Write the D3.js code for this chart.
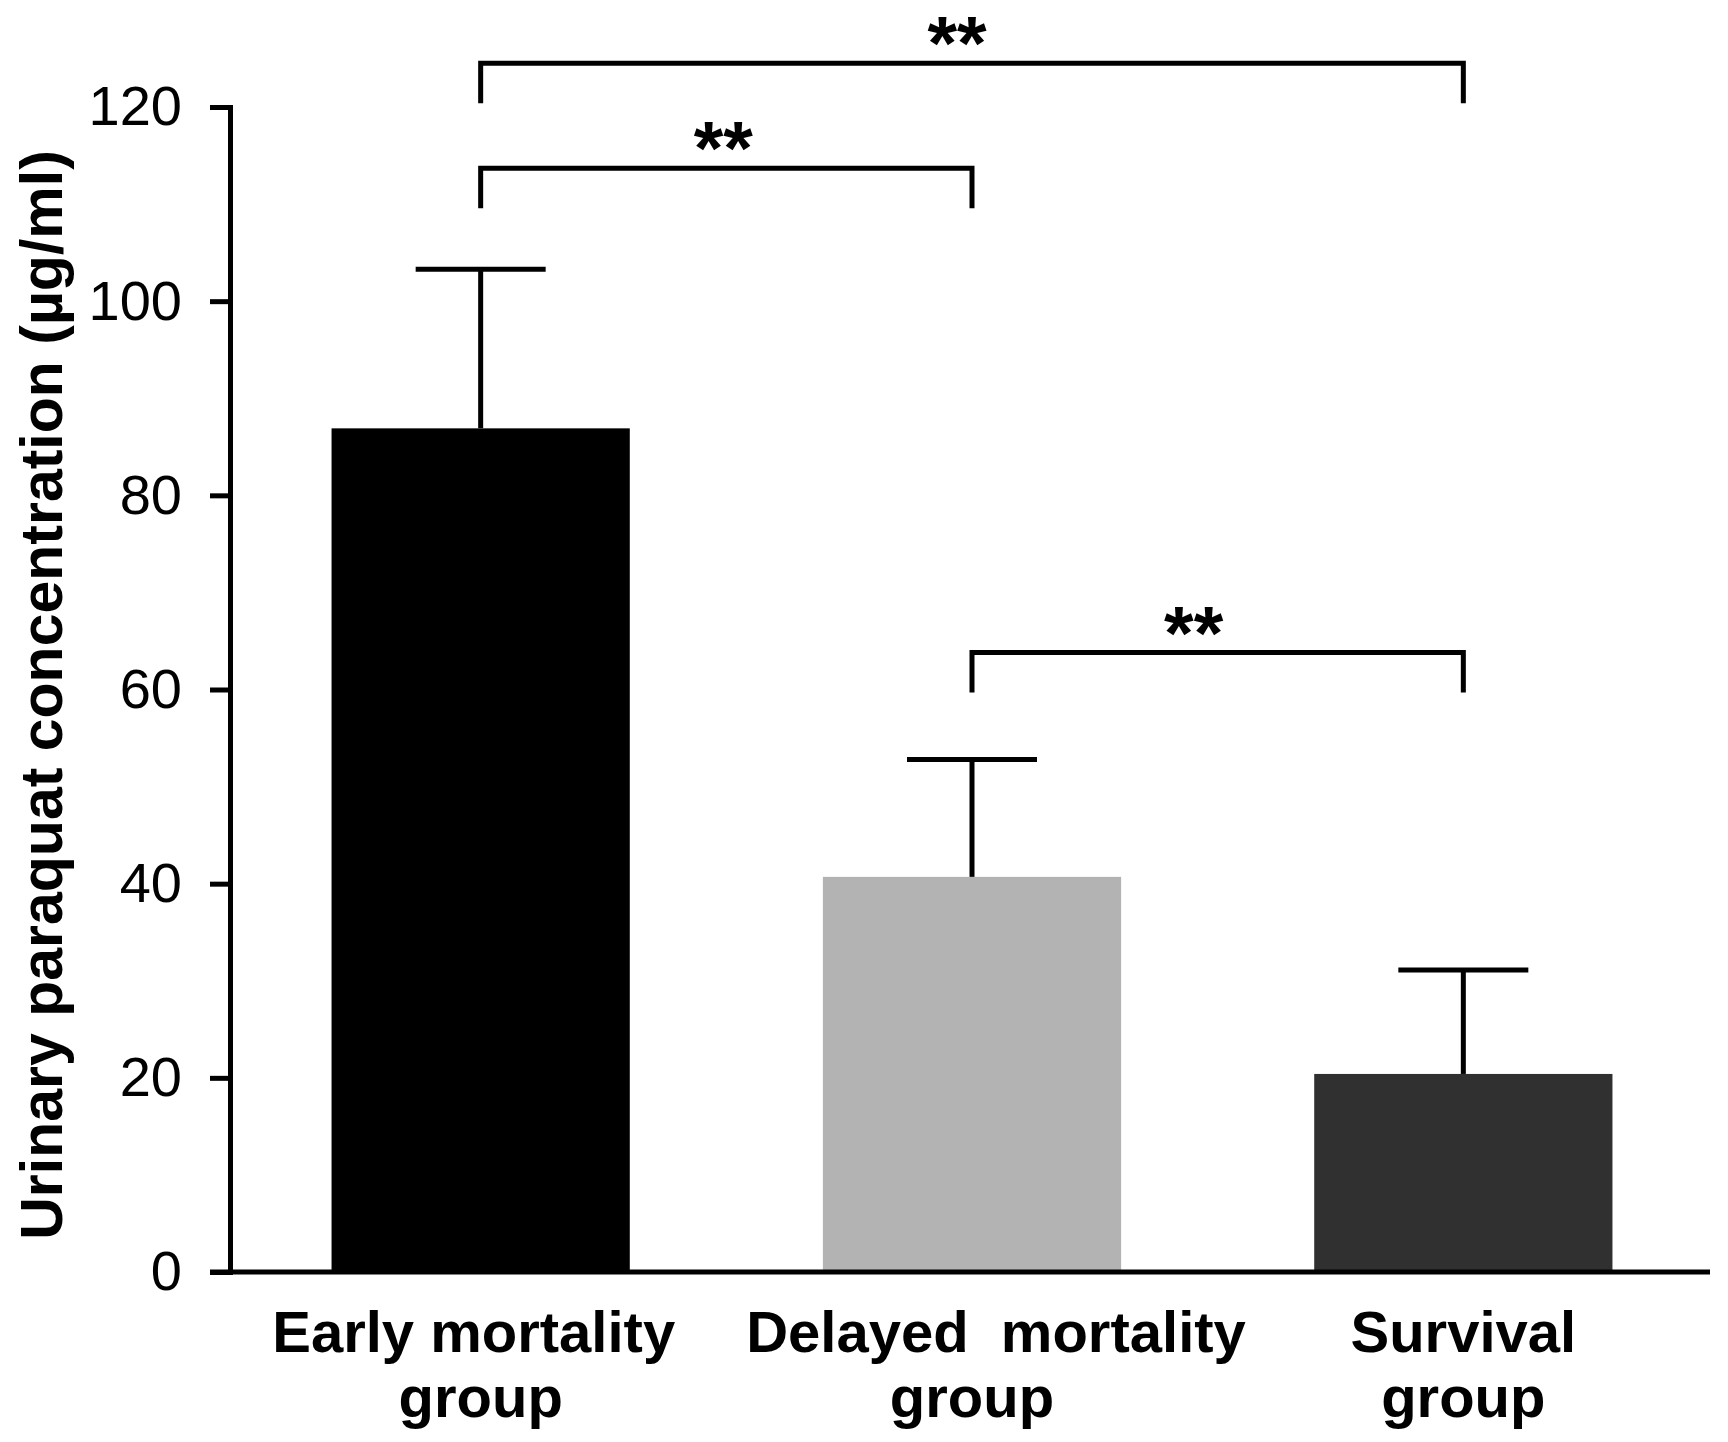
<!DOCTYPE html>
<html>
<head>
<meta charset="utf-8">
<script src="https://cdn.jsdelivr.net/npm/d3@7"></script>
<style>
  html, body { margin: 0; padding: 0; background: #fff; }
  svg { display: block; font-family: "Liberation Sans", Arial, sans-serif; }
</style>
</head>
<body>
<svg id="chart" width="1728" height="1442"></svg>
<script>
// Urinary paraquat concentration by outcome group (mean + SD)

const groups = ["Early mortality group", "Delayed mortality group", "Survival group"];
const labelLines = [["Early mortality", "group"], ["Delayed\u00a0 mortality", "group"], ["Survival", "group"]];
const means = [86.9, 40.7, 20.4];
const sds = [16.4, 12.1, 10.7];
const barColors = ["#000000", "#b3b3b3", "#303030"];
const yTicks = [0, 20, 40, 60, 80, 100, 120];

// significance brackets: group index pairs, bracket level in axis units
const compA = [0, 0, 1];
const compB = [2, 1, 2];
const compLevel = [124.5, 113.7, 63.8];
const compLabel = ["**", "**", "**"];

const W = 1728, H = 1442;
const AXIS_X = 230, BASE_Y = 1272, TOP_Y = 107;
const LINE = 5;
const CAP_HALF = 65;
const DROP = 40;
const LINE1_NUDGE = [-7, 24, 0];
const STAR_NUDGE = [-15, -3, -24];

const svg = d3.select("#chart");
svg.append("rect").attr("width", W).attr("height", H).attr("fill", "#fff");

const y = d3.scaleLinear().domain([0, 120]).range([BASE_Y, TOP_Y]);
const x = d3.scaleBand()
  .domain(groups)
  .range([235, 1709])
  .paddingInner(0.393)
  .paddingOuter(0.1965);

const rows = groups.map((g, i) => ({ g, i, mean: means[i], sd: sds[i], color: barColors[i] }));

// bars
svg.append("g").selectAll("rect")
  .data(rows)
  .enter()
  .append("rect")
  .attr("x", d => x(d.g))
  .attr("y", d => y(d.mean))
  .attr("width", x.bandwidth())
  .attr("height", d => y(0) - y(d.mean))
  .attr("fill", d => d.color);

// error bars (upper only)
const cx = d => x(d.g) + x.bandwidth() / 2;
const eb = svg.append("g").attr("stroke", "#000").attr("stroke-width", LINE);
eb.selectAll("line.v")
  .data(rows)
  .enter()
  .append("line")
  .attr("class", "v")
  .attr("x1", cx).attr("x2", cx)
  .attr("y1", d => y(d.mean))
  .attr("y2", d => y(d.mean + d.sd));
eb.selectAll("line.cap")
  .data(rows)
  .enter()
  .append("line")
  .attr("class", "cap")
  .attr("x1", d => cx(d) - CAP_HALF).attr("x2", d => cx(d) + CAP_HALF)
  .attr("y1", d => y(d.mean + d.sd))
  .attr("y2", d => y(d.mean + d.sd));

// y axis
const yAxis = svg.append("g")
  .attr("transform", `translate(${AXIS_X},0)`)
  .call(d3.axisLeft(y).tickValues(yTicks).tickSize(20).tickSizeOuter(0).tickPadding(28));
yAxis.select(".domain").attr("stroke", "#000").attr("stroke-width", LINE).attr("stroke-linecap", "square");
yAxis.selectAll(".tick line").attr("stroke", "#000").attr("stroke-width", LINE);
yAxis.selectAll(".tick text")
  .attr("fill", "#000")
  .style("font-size", "56px")
  .style("font-family", "'Liberation Sans', Arial, sans-serif");

// x axis labels
const xAxis = svg.append("g")
  .attr("transform", `translate(0,${BASE_Y})`)
  .call(d3.axisBottom(x).tickSize(0).tickSizeOuter(0));
xAxis.select(".domain").remove();
xAxis.selectAll(".tick text").each(function(d, i) {
  const t = d3.select(this);
  t.text(null).attr("y", 0).attr("dy", null)
    .attr("fill", "#000")
    .style("font-size", "58px")
    .style("font-weight", "bold")
    .style("font-family", "'Liberation Sans', Arial, sans-serif");
  labelLines[i].forEach((ln, j) => {
    t.append("tspan")
      .attr("x", j === 0 ? LINE1_NUDGE[i] : 0)
      .attr("y", 80 + j * 65)
      .text(ln);
  });
});

// x axis line
svg.append("line")
  .attr("x1", 210).attr("x2", 1710)
  .attr("y1", BASE_Y).attr("y2", BASE_Y)
  .attr("stroke", "#000").attr("stroke-width", LINE);

// y title
svg.append("text")
  .attr("transform", `translate(62,695) rotate(-90)`)
  .attr("text-anchor", "middle")
  .style("font-size", "59px")
  .style("font-weight", "bold")
  .text("Urinary paraquat concentration (\u00b5g/ml)");

// significance brackets
const comps = compA.map((a, i) => ({ a, b: compB[i], level: compLevel[i], label: compLabel[i], i }));
const xc = i => x(groups[i]) + x.bandwidth() / 2;

svg.append("g").selectAll("path")
  .data(comps)
  .enter()
  .append("path")
  .attr("d", d => {
    const yl = y(d.level);
    return `M${xc(d.a)},${yl + DROP}V${yl}H${xc(d.b)}V${yl + DROP}`;
  })
  .attr("fill", "none")
  .attr("stroke", "#000")
  .attr("stroke-width", LINE)
  .attr("stroke-linejoin", "miter");

svg.append("g").selectAll("text")
  .data(comps)
  .enter()
  .append("text")
  .attr("x", d => (xc(d.a) + xc(d.b)) / 2 + STAR_NUDGE[d.i])
  .attr("y", d => y(d.level) + 6)
  .attr("text-anchor", "middle")
  .style("font-size", "76px")
  .style("font-weight", "bold")
  .text(d => d.label);
</script>
</body>
</html>
